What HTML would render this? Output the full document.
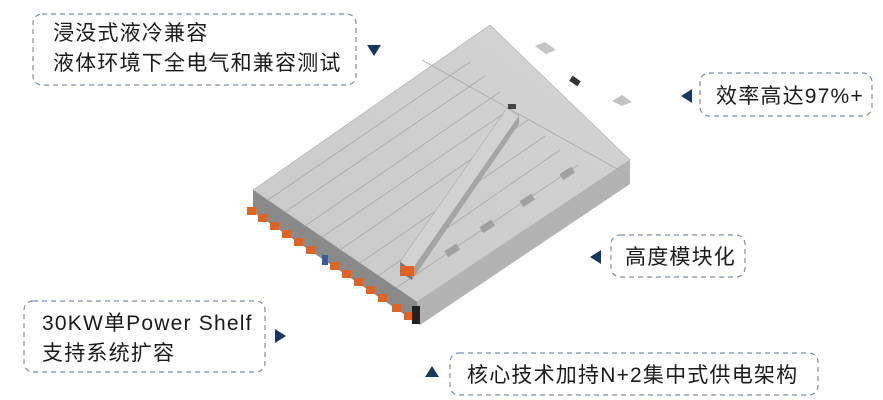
<!DOCTYPE html>
<html><head><meta charset="utf-8"><style>
html,body{margin:0;padding:0;background:#fff;width:883px;height:400px;overflow:hidden}
svg{display:block}
text{font-family:"Liberation Sans","Noto Sans CJK SC",sans-serif;fill:#1a1a1a}
</style></head><body>
<svg width="883" height="400" viewBox="0 0 883 400">
<defs>
<linearGradient id="top" x1="0" y1="1" x2="1" y2="0">
<stop offset="0" stop-color="#c9c9c9"/><stop offset="1" stop-color="#d4d4d4"/></linearGradient>
</defs>
<g fill="none" stroke="#7b8fa6" stroke-width="1.2" stroke-dasharray="5,4">
<rect x="33" y="14" width="323" height="71" rx="9"/>
<rect x="700" y="73" width="172" height="43" rx="9"/>
<rect x="611" y="235" width="134" height="42" rx="9"/>
<rect x="24" y="301" width="241" height="71" rx="9"/>
<rect x="450" y="353" width="368" height="42" rx="9"/>
</g>
<g fill="#17375e">
<polygon points="367,45 381,45 374,56"/>
<polygon points="692,89 692,103 681,96"/>
<polygon points="601,250 601,264 590,257"/>
<polygon points="275,329 275,343 286,336"/>
<polygon points="425,377 439,377 432,366"/>
</g>
<g font-size="21" letter-spacing="1.2">
<text x="53" y="40">浸没式液冷兼容</text>
<text x="53" y="70">液体环境下全电气和兼容测试</text>
<text x="716" y="103">效率高达97%+</text>
<text x="625" y="264">高度模块化</text>
<text x="42" y="330">30KW单Power Shelf</text>
<text x="42" y="360">支持系统扩容</text>
<text x="467" y="382">核心技术加持N+2集中式供电架构</text>
</g>
<!-- back tabs -->
<polygon points="535,46 545,42 556,50 546,54" fill="#c4c4c4"/>
<polygon points="612,101 622,95 632,102 622,106" fill="#c4c4c4"/>
<rect x="570" y="78" width="10" height="6" fill="#333" transform="rotate(35 575 81)"/>
<!-- device -->
<polygon points="253,190 490,25 630,160 417,302" fill="url(#top)" stroke="#aaa" stroke-width="0.6"/>
<polygon points="417,302 630,160 630,184 420,325" fill="#b3b3b3"/>
<polygon points="253,190 417,302 420,325 253,212" fill="#8a8a8a"/>
<g stroke="#a9a9a9" stroke-width="0.8">
<line x1="268" y1="200" x2="470" y2="62"/>
<line x1="285" y1="212" x2="485" y2="76"/>
<line x1="305" y1="226" x2="500" y2="92"/>
<line x1="322" y1="237" x2="515" y2="106"/>
<line x1="340" y1="250" x2="528" y2="120"/>
<line x1="360" y1="263" x2="545" y2="136"/>
<line x1="378" y1="276" x2="560" y2="150"/>
<line x1="396" y1="288" x2="578" y2="165"/>
<line x1="422" y1="60" x2="628" y2="175"/>
</g>
<g fill="#a0a0a0">
<rect x="560" y="170" width="14" height="7" transform="rotate(-33 567 173)"/>
<rect x="520" y="197" width="14" height="7" transform="rotate(-33 527 200)"/>
<rect x="480" y="223" width="14" height="7" transform="rotate(-33 487 226)"/>
<rect x="445" y="247" width="14" height="7" transform="rotate(-33 452 250)"/>
</g>
<!-- bar -->
<polygon points="400,262 507,108 519,116 412,270" fill="#d2d2d2" stroke="#999" stroke-width="0.5"/>
<polygon points="412,270 519,116 519,124 412,280" fill="#a5a5a5"/>
<polygon points="400,262 412,270 412,280 400,272" fill="#7a7a7a"/>
<rect x="400" y="266" width="14" height="10" fill="#e2621f"/>
<rect x="508" y="104" width="8" height="5" fill="#444"/>
<!-- front orange handles -->
<g fill="#e2621f">
<rect x="247" y="207" width="9" height="8"/><rect x="258" y="214" width="9" height="8"/>
<rect x="270" y="222" width="9" height="8"/><rect x="282" y="230" width="9" height="8"/>
<rect x="294" y="238" width="9" height="8"/><rect x="306" y="246" width="9" height="8"/>
<rect x="330" y="262" width="9" height="8"/><rect x="342" y="270" width="9" height="8"/>
<rect x="354" y="278" width="9" height="8"/><rect x="366" y="286" width="9" height="8"/>
<rect x="378" y="294" width="9" height="8"/><rect x="392" y="304" width="9" height="8"/>
<rect x="404" y="312" width="9" height="8"/>
</g>
<rect x="412" y="306" width="8" height="18" fill="#222"/>
<rect x="322" y="255" width="6" height="10" fill="#3a5a9a"/>
</svg>
</body></html>
